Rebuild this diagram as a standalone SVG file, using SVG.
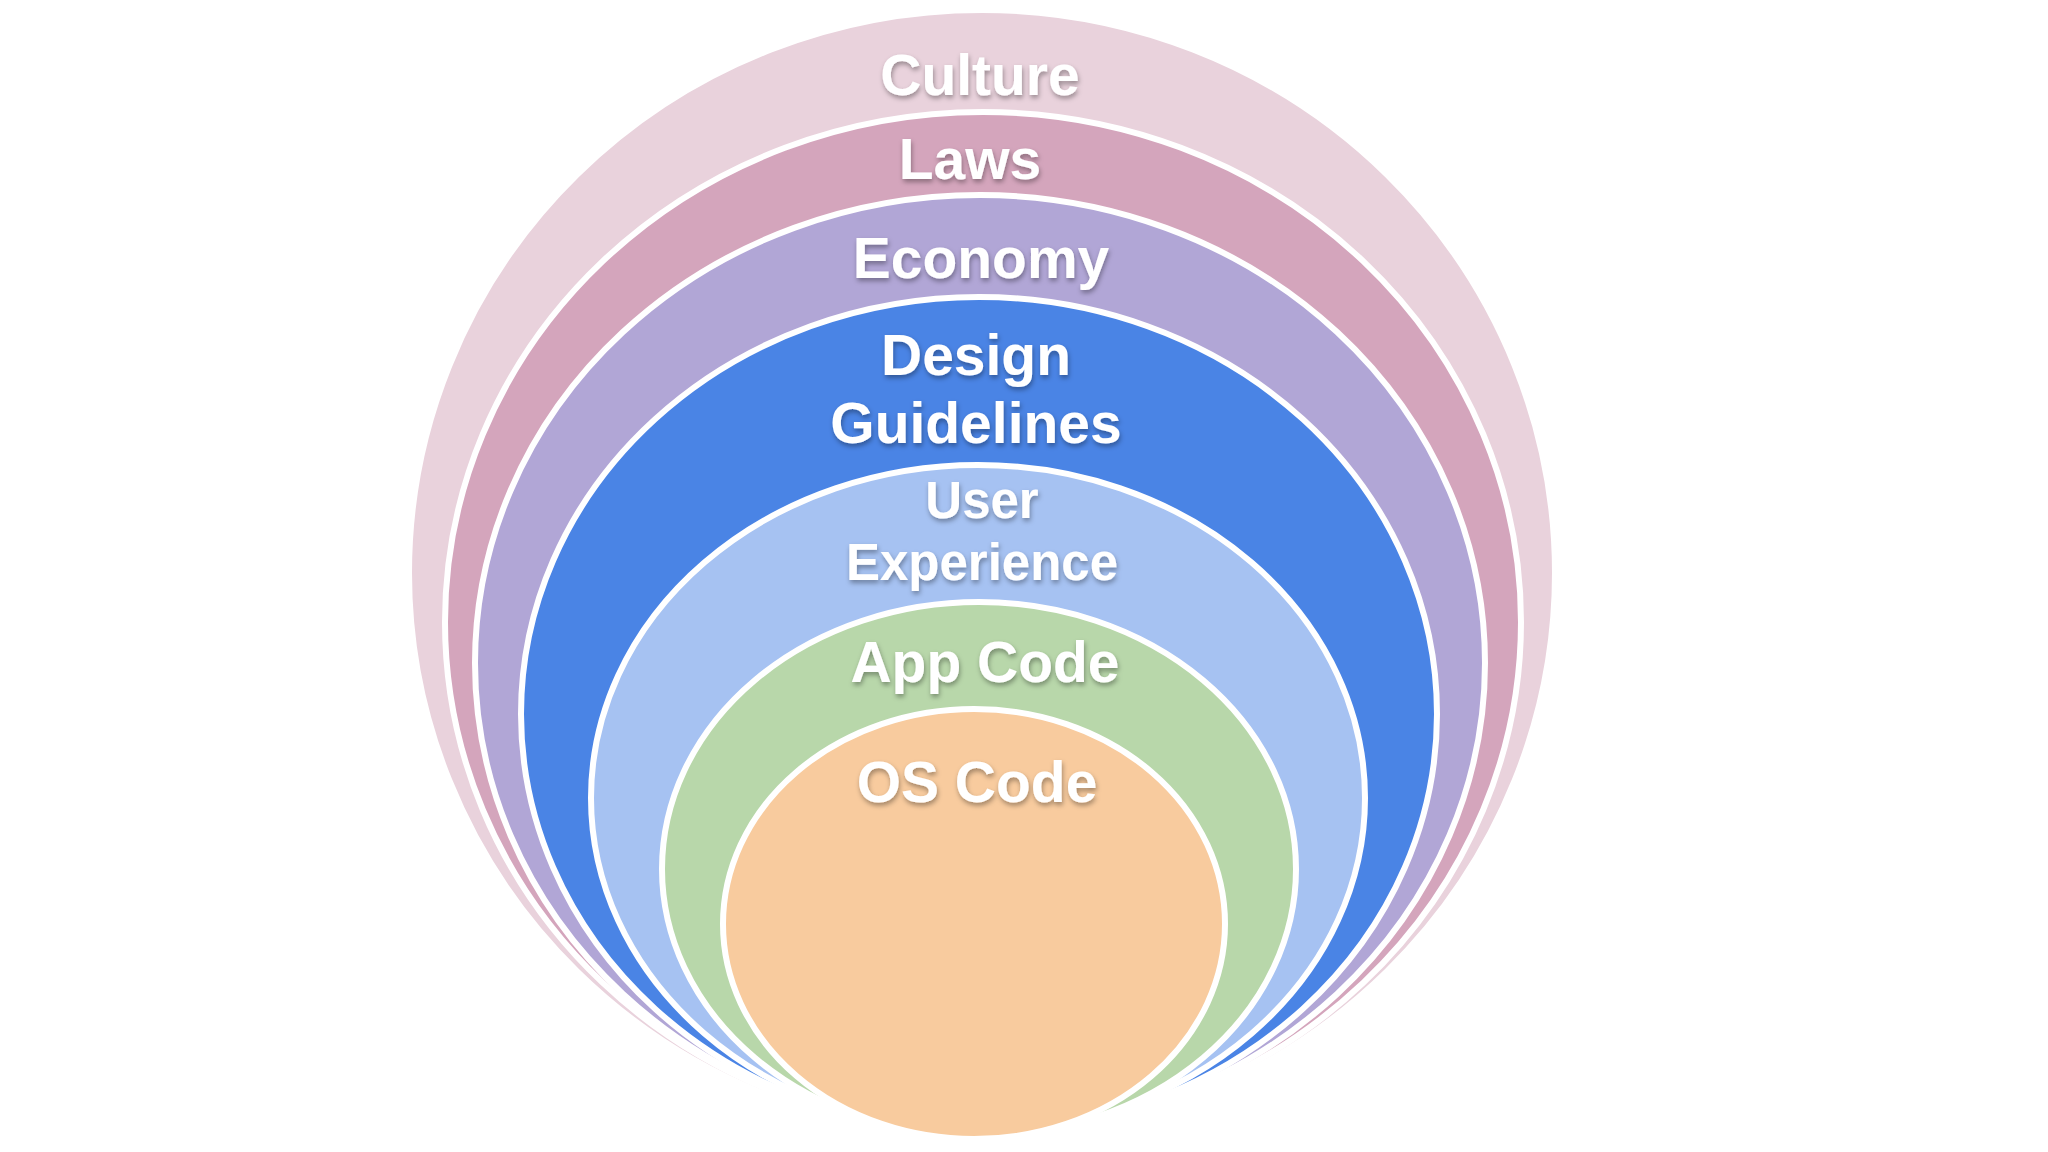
<svg xmlns="http://www.w3.org/2000/svg" width="2048" height="1152" viewBox="0 0 2048 1152">
  <defs>
    <filter id="shadow" x="-20%" y="-30%" width="140%" height="170%">
      <feDropShadow dx="1" dy="3" stdDeviation="2.5" flood-color="#000" flood-opacity="0.35"/>
    </filter>
    <style>
      .ring { stroke: #ffffff; stroke-width: 6; }
      .lbl { font-family: "Liberation Sans", Arial, Helvetica, sans-serif; font-weight: bold; font-size: 57px; fill: #ffffff; text-anchor: middle; filter: url(#shadow); }
      .sm { font-size: 51px; }
    </style>
  </defs>
  <rect x="0" y="0" width="2048" height="1152" fill="#ffffff"/>
  <g id="culture">
    <ellipse class="ring" cx="982" cy="573" rx="573" ry="563" fill="#E9D2DC"/>
  </g>
  <g id="laws">
    <ellipse class="ring" cx="983" cy="622" rx="538" ry="510" fill="#D4A5BC"/>
  </g>
  <g id="economy">
    <ellipse class="ring" cx="980" cy="663" rx="505" ry="468" fill="#B1A6D6"/>
  </g>
  <g id="design-guidelines">
    <ellipse class="ring" cx="979" cy="714" rx="458" ry="417" fill="#4A84E5"/>
  </g>
  <g id="user-experience">
    <ellipse class="ring" cx="978" cy="798" rx="387" ry="333" fill="#A6C2F2"/>
  </g>
  <g id="app-code">
    <ellipse class="ring" cx="979" cy="869" rx="317" ry="267" fill="#B8D7AA"/>
  </g>
  <g id="os-code">
    <ellipse class="ring" cx="974" cy="924" rx="251" ry="215" fill="#F8CB9E"/>
  </g>
  <g id="labels">
    <text class="lbl" x="980" y="95">Culture</text>
    <text class="lbl" x="970" y="179">Laws</text>
    <text class="lbl" x="981" y="278">Economy</text>
    <text class="lbl" x="976" y="375">Design</text>
    <text class="lbl" x="976" y="443">Guidelines</text>
    <text class="lbl sm" x="982" y="518">User</text>
    <text class="lbl sm" x="982" y="580">Experience</text>
    <text class="lbl" x="985" y="682">App Code</text>
    <text class="lbl" x="977" y="802">OS Code</text>
  </g>
  <g id="connectors"/>
</svg>
